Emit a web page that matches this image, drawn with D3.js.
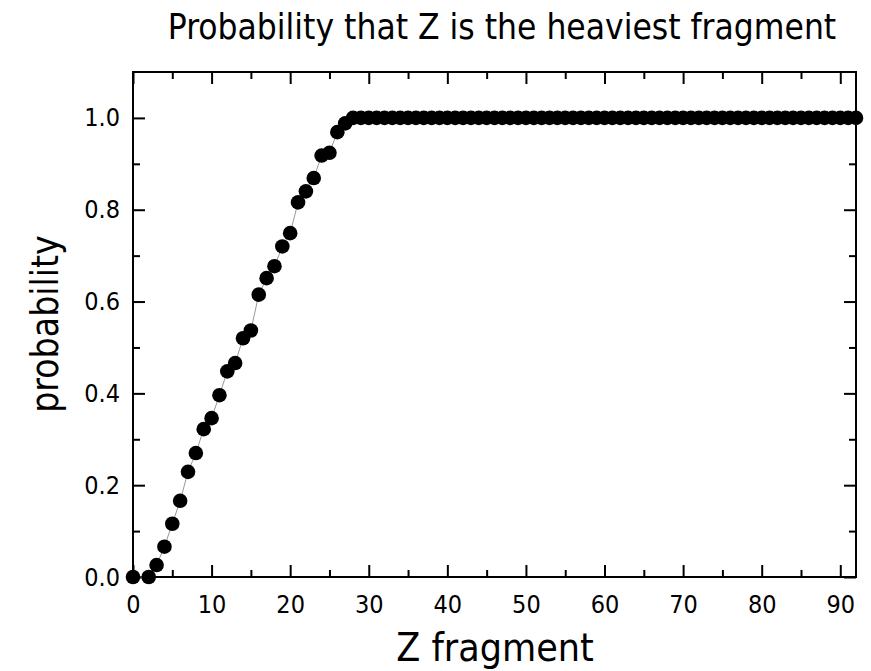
<!DOCTYPE html>
<meta charset="utf-8">
<title>Probability that Z is the heaviest fragment</title>
<style>
body { margin: 0; background: #fff; }
text { font-family: "DejaVu Sans Condensed", "DejaVu Sans", sans-serif; fill: #000; }
.axis path { display: none; }
.axis line { stroke: #000; stroke-width: 2px; }
</style>
<body>
<script src="https://cdn.jsdelivr.net/npm/d3@7"></script>
<script>

var width = 871,
    height = 671;

var margin = {top: 72, right: 15, bottom: 94, left: 133};

// Z values of the fragments
var zValues = [0, 2, 3, 4, 5, 6, 7, 8, 9, 10, 11, 12, 13, 14, 15, 16, 17, 18, 19, 20,
  21, 22, 23, 24, 25, 26, 27, 28, 29, 30, 31, 32, 33, 34, 35, 36, 37, 38, 39, 40,
  41, 42, 43, 44, 45, 46, 47, 48, 49, 50, 51, 52, 53, 54, 55, 56, 57, 58, 59, 60,
  61, 62, 63, 64, 65, 66, 67, 68, 69, 70, 71, 72, 73, 74, 75, 76, 77, 78, 79, 80,
  81, 82, 83, 84, 85, 86, 87, 88, 89, 90, 91, 92];

// probability (1.0 from Z=28 on)
var probRising = [0, 0, 0.026, 0.066, 0.116, 0.166, 0.229, 0.27, 0.322, 0.346,
  0.396, 0.448, 0.466, 0.52, 0.537, 0.615, 0.651, 0.677, 0.72, 0.749,
  0.816, 0.84, 0.869, 0.918, 0.924, 0.969, 0.988];
var probFlat = [1, 1, 1, 1, 1, 1, 1, 1, 1, 1, 1, 1, 1, 1, 1, 1, 1, 1, 1, 1,
  1, 1, 1, 1, 1, 1, 1, 1, 1, 1, 1, 1, 1, 1, 1, 1, 1, 1, 1, 1,
  1, 1, 1, 1, 1, 1, 1, 1, 1, 1, 1, 1, 1, 1, 1, 1, 1, 1, 1, 1,
  1, 1, 1, 1, 1];
var probability = probRising.concat(probFlat);

var xMajor = [0, 10, 20, 30, 40, 50, 60, 70, 80, 90],
    xMinor = [5, 15, 25, 35, 45, 55, 65, 75, 85],
    yMajor = [0, 0.2, 0.4, 0.6, 0.8, 1.0],
    yMinor = [0.1, 0.3, 0.5, 0.7, 0.9];

var data = zValues.map(function(z, i) { return {z: z, p: probability[i]}; });

var w = width - margin.left - margin.right,
    h = height - margin.top - margin.bottom;

var x = d3.scaleLinear().domain([0, 92]).range([0, w]);
var y = d3.scaleLinear().domain([0, 1.1]).range([h, 0]);

var svg = d3.select("body").append("svg")
    .attr("width", width)
    .attr("height", height);

var g = svg.append("g")
    .attr("transform", "translate(" + margin.left + "," + margin.top + ")");

// axes with inward ticks, on all four sides
g.append("g").attr("class", "axis")
    .attr("transform", "translate(0," + h + ")")
    .call(d3.axisBottom(x).tickValues(xMajor).tickSize(-12).tickPadding(18))
    .selectAll("text").style("font-size", "25px");
g.append("g").attr("class", "axis")
    .attr("transform", "translate(0," + h + ")")
    .call(d3.axisBottom(x).tickValues(xMinor).tickSize(-7).tickFormat(""));
g.append("g").attr("class", "axis")
    .call(d3.axisTop(x).tickValues(xMajor).tickSize(-12).tickFormat(""));
g.append("g").attr("class", "axis")
    .call(d3.axisTop(x).tickValues(xMinor).tickSize(-7).tickFormat(""));

g.append("g").attr("class", "axis")
    .call(d3.axisLeft(y).tickValues(yMajor).tickSize(-12).tickPadding(13).tickFormat(d3.format(".1f")))
    .selectAll("text").style("font-size", "25px");
g.append("g").attr("class", "axis")
    .call(d3.axisLeft(y).tickValues(yMinor).tickSize(-7).tickFormat(""));
g.append("g").attr("class", "axis")
    .attr("transform", "translate(" + w + ",0)")
    .call(d3.axisRight(y).tickValues(yMajor).tickSize(-12).tickFormat(""));
g.append("g").attr("class", "axis")
    .attr("transform", "translate(" + w + ",0)")
    .call(d3.axisRight(y).tickValues(yMinor).tickSize(-7).tickFormat(""));

// frame
g.append("rect")
    .attr("width", w)
    .attr("height", h)
    .attr("fill", "none")
    .attr("stroke", "#000")
    .attr("stroke-width", 2);

var line = d3.line()
    .x(function(d) { return x(d.z); })
    .y(function(d) { return y(d.p); });

g.append("path")
    .datum(data)
    .attr("d", line)
    .attr("fill", "none")
    .attr("stroke", "#999")
    .attr("stroke-width", 1);

g.selectAll("circle")
    .data(data)
  .enter().append("circle")
    .attr("cx", function(d) { return x(d.z); })
    .attr("cy", function(d) { return y(d.p); })
    .attr("r", 7.3)
    .attr("fill", "#000");

svg.append("text")
    .attr("x", 502)
    .attr("y", 39)
    .attr("text-anchor", "middle")
    .style("font-size", "35px")
    .text("Probability that Z is the heaviest fragment");

svg.append("text")
    .attr("x", 495)
    .attr("y", 661)
    .attr("text-anchor", "middle")
    .style("font-size", "39px")
    .text("Z fragment");

svg.append("text")
    .attr("transform", "translate(58,324) rotate(-90)")
    .attr("text-anchor", "middle")
    .style("font-size", "37px")
    .text("probability");

</script>
